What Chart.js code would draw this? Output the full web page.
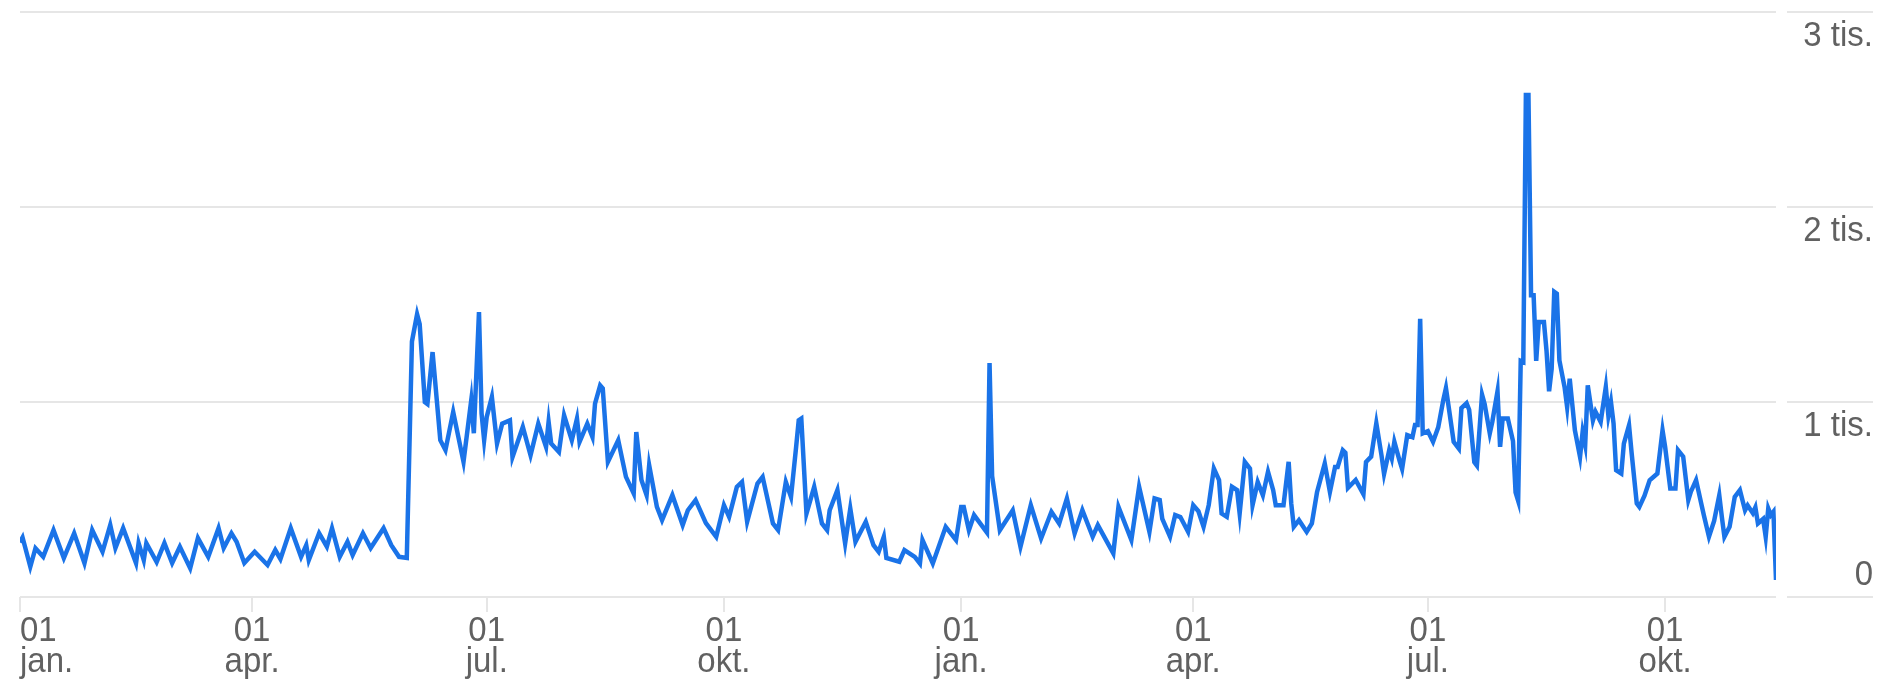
<!DOCTYPE html>
<html>
<head>
<meta charset="utf-8">
<script src="https://cdn.jsdelivr.net/npm/chart.js@4.4.1/dist/chart.umd.min.js"></script>
<style>
  html, body { margin: 0; padding: 0; background: #fff; }
  #wrap { width: 1883px; height: 682px; }
</style>
</head>
<body>
<div id="wrap"><canvas id="trendChart" width="1883" height="682"></canvas></div>
<script>
// daily views, days counted from 1 Jan of the first year (only turning points kept)
const daysA = [0, 1, 4, 6, 9, 13, 17, 21, 25, 28, 32, 35, 37, 40, 45, 46, 48, 49, 53, 56, 59, 62, 66, 69, 73, 77, 79, 82, 84, 87,
  91, 96, 99, 101, 105, 109, 111, 112, 116, 119, 121, 124, 127, 129, 133, 136, 141, 144, 147, 150, 152, 154, 155, 157, 158, 160,
  163, 165, 168, 172, 175, 176, 178, 179, 180, 181, 183, 185, 187, 190, 191, 195, 198, 201, 204, 205, 206, 209, 211, 214, 216,
  217, 220, 222, 223, 225, 226, 228, 232, 235, 238, 239, 241, 243, 244, 247, 249, 253, 257, 259, 262, 266, 270, 273, 275, 278,
  280, 282, 286, 288, 292, 294, 297, 299, 301, 302, 303, 305, 308, 311, 313, 314, 317, 320, 322, 324, 328, 331, 333, 335, 336,
  341, 343, 347, 349, 350, 354, 359, 363];
const viewsA = [280, 305, 155, 250, 206, 343, 200, 327, 174, 343, 232, 369, 251, 353, 174, 276, 189, 276, 179, 276, 174, 258, 148, 302, 206, 353, 251, 327, 283, 174,
  232, 164, 241, 195, 353, 206, 266, 189, 327, 258, 353, 206, 283, 215, 327, 251, 353, 266, 206, 200, 1310, 1450, 1400, 1000, 990, 1256,
  804, 753, 949, 693, 1009, 840, 1461, 942, 804, 923, 1026, 787, 889, 906, 718, 872, 727, 889, 770, 898, 787, 744, 932, 804, 915,
  795, 889, 821, 992, 1085, 1070, 693, 804, 616, 531, 846, 600, 522, 676, 462, 394, 522, 369, 445, 497, 379, 309, 471, 411, 565,
  590, 386, 582, 616, 377, 343, 590, 513, 770, 906, 915, 428, 565, 377, 343, 445, 548, 275, 454, 283, 386, 266, 232, 309, 200,
  181, 241, 206, 172, 292, 172, 360, 292];

const daysB = [365, 366, 368, 370, 375, 376, 377, 380, 385, 388, 392, 396, 400, 403, 406, 409, 412, 416, 418, 424, 426, 431, 434,
  438, 440, 442, 443, 446, 448, 450, 453, 455, 457, 459, 461, 463, 465, 466, 468, 470, 472, 473, 475, 477, 478, 480, 482, 484,
  486, 487, 490, 492, 493, 494, 496, 499, 501, 503, 506, 508, 510, 511, 513, 514, 515, 518, 521, 522, 524, 526, 528, 529, 531,
  532, 533, 535, 536, 538, 540, 541, 542, 543, 544, 546, 548, 550, 552, 553, 554, 556, 558, 559, 561, 562, 564, 565, 567, 568,
  570, 571, 573, 574, 575, 577, 579, 580, 581, 582, 583, 584, 585, 586, 587, 588, 589, 591, 592, 593, 594, 595, 596, 597, 599,
  600, 601, 603, 605, 606, 607, 608, 610, 611, 613, 615, 616, 617, 618, 619, 621, 622, 624, 625, 627, 628, 630, 632, 635, 637,
  638, 640, 642, 643, 645, 647, 648, 650, 651, 652, 653, 655, 657, 659, 660, 661, 663, 665, 667, 669, 670, 672, 673, 674, 676,
  677, 678, 679, 680, 681];
const viewsB = [462, 462, 343, 420, 330, 1200, 620, 343, 445, 258, 471, 300, 437, 377, 505, 326, 445, 309, 369, 224, 462, 292, 565,
  334, 505, 497, 400, 309, 420, 410, 334, 471, 440, 360, 471, 659, 600, 428, 411, 565, 548, 428, 693, 659, 471, 590, 522, 642,
  548, 471, 471, 693, 480, 360, 394, 334, 377, 537, 685, 539, 667, 667, 753, 740, 560, 600, 527, 692, 720, 891, 727, 631, 753,
  710, 796, 700, 657, 830, 820, 882, 882, 1427, 839, 850, 796, 870, 1012, 1072, 980, 796, 761, 969, 994, 960, 692, 674, 1038, 990,
  839, 900, 1055, 770, 916, 916, 800, 536, 493, 1211, 1205, 2574, 2574, 1548, 1548, 1211, 1410, 1410, 1263, 1055, 1170, 1565, 1555, 1213, 1077,
  974, 1120, 855, 718, 846, 780, 1085, 906, 950, 898, 1077, 930, 1000, 890, 650, 633, 787, 881, 740, 480, 462, 520, 599, 633, 855,
  770, 556, 556, 753, 720, 497, 540, 599, 540, 480, 420, 309, 390, 522, 410, 309, 360, 513, 548, 445, 470, 430, 460, 377, 400,
  309, 454, 420, 437, 87];

const monthStartDays = [0, 90, 181, 273, 365, 455, 546, 638];
const dayLabels = ['01', '01', '01', '01', '01', '01', '01', '01'];
const monthLabels = ['jan.', 'apr.', 'jul.', 'okt.', 'jan.', 'apr.', 'jul.', 'okt.'];
const yTicks = [0, 1000, 2000, 3000];
const yTickLabels = ['0', '1 tis.', '2 tis.', '3 tis.'];

const points = daysA.map((d, i) => ({ x: d, y: viewsA[i] }))
  .concat(daysB.map((d, i) => ({ x: d, y: viewsB[i] })));

const gridColor = '#e6e6e6';
const textColor = '#616161';
const labelFont = '33px "Liberation Sans", Arial, sans-serif';

function stretchedText(ctx, text, x, y, align) {
  ctx.save();
  ctx.translate(x, y);
  ctx.scale(1, 1.08);
  ctx.textAlign = align;
  ctx.textBaseline = 'alphabetic';
  ctx.fillText(text, 0, 0);
  ctx.restore();
}

const axisLabels = {
  id: 'axisLabels',
  afterDraw(chart) {
    const { ctx, chartArea } = chart;
    const xs = chart.scales.x, ys = chart.scales.y;
    const rightEdge = chart.width - 10;
    ctx.save();
    ctx.fillStyle = textColor;
    ctx.font = labelFont;

    // right hand part of the grid + value labels
    yTicks.forEach((v, i) => {
      const py = Math.round(ys.getPixelForValue(v));
      ctx.strokeStyle = gridColor;
      ctx.lineWidth = 2;
      ctx.beginPath();
      ctx.moveTo(chartArea.right + 11, py);
      ctx.lineTo(rightEdge, py);
      ctx.stroke();
      const base = v === 0 ? py - 12 : py + 34;
      stretchedText(ctx, yTickLabels[i], rightEdge, base, 'right');
    });

    // month labels under the ticks
    monthStartDays.forEach((d, i) => {
      const px = xs.getPixelForValue(d);
      const align = i === 0 ? 'left' : 'center';
      stretchedText(ctx, dayLabels[i], px, 641, align);
      stretchedText(ctx, monthLabels[i], px, 672, align);
    });
    ctx.restore();
  }
};

const ctx = document.getElementById('trendChart').getContext('2d');
new Chart(ctx, {
  type: 'line',
  data: {
    datasets: [{
      label: 'Zobrazení',
      data: points,
      borderColor: '#1a73e8',
      borderWidth: 4.5,
      pointRadius: 0,
      tension: 0,
      fill: false
    }]
  },
  options: {
    responsive: false,
    animation: false,
    layout: { padding: { left: 20, top: 12, right: 0, bottom: 0 } },
    plugins: {
      legend: { display: false },
      tooltip: { enabled: false }
    },
    scales: {
      x: {
        type: 'linear',
        min: 0,
        max: 681,
        afterBuildTicks: s => { s.ticks = monthStartDays.map(v => ({ value: v })); },
        afterFit: s => { s.height = 85; },
        ticks: { display: false },
        grid: { drawOnChartArea: false, drawTicks: true, tickLength: 15, color: gridColor, lineWidth: 2 },
        border: { display: false }
      },
      y: {
        position: 'right',
        min: 0,
        max: 3000,
        afterBuildTicks: s => { s.ticks = yTicks.map(v => ({ value: v })); },
        afterFit: s => { s.width = 107; },
        ticks: { display: false },
        grid: { color: gridColor, lineWidth: 2, drawTicks: false },
        border: { display: false }
      }
    }
  },
  plugins: [axisLabels]
});
</script>
</body>
</html>
